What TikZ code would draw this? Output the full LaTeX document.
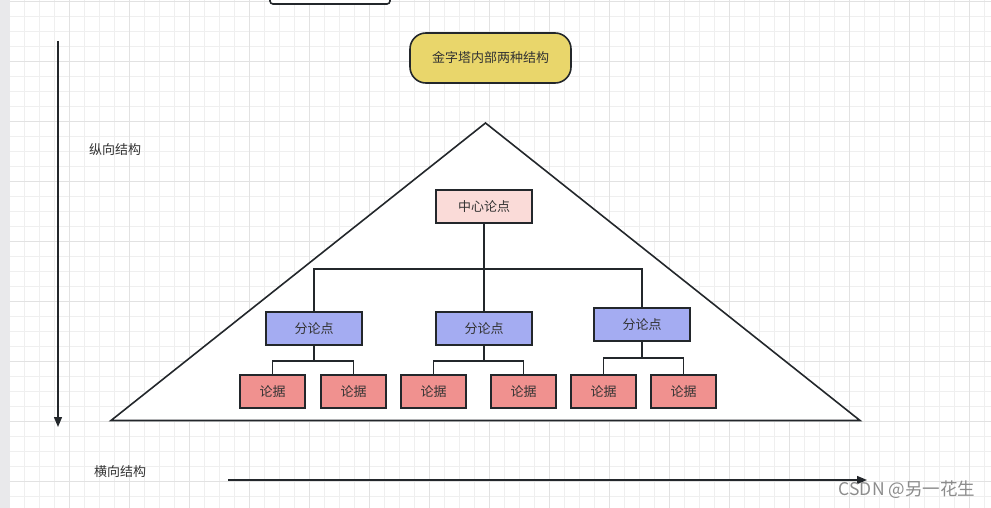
\documentclass[tikz,border=0pt]{standalone}
\usepackage{fontspec}
\setmainfont{Noto Sans CJK SC}
\usetikzlibrary{arrows.meta}
\definecolor{gridminor}{HTML}{EFEFEF}
\definecolor{gridmajor}{HTML}{E2E2E2}
\definecolor{strip}{HTML}{E9E9EB}
\definecolor{edge}{HTML}{23272B}
\definecolor{titlefill}{HTML}{E9D66B}
\definecolor{centerfill}{HTML}{FADBD8}
\definecolor{subfill}{HTML}{A4ACF2}
\definecolor{leaffill}{HTML}{F0918F}
\definecolor{txt}{HTML}{333333}
\tikzset{
  box/.style={draw=edge, line width=1.6pt, text=txt, font=\fontsize{13}{15}\selectfont, inner sep=0pt},
  centerbox/.style={box, fill=centerfill, minimum width=96pt, minimum height=33pt},
  subbox/.style={box, fill=subfill, minimum width=96pt, minimum height=33pt},
  leafbox/.style={box, fill=leaffill, minimum width=65pt, minimum height=33pt},
  link/.style={draw=edge, line width=1.6pt},
  label/.style={text=txt, font=\fontsize{13}{15}\selectfont, inner sep=0pt},
  axis/.style={draw=edge, line width=1.4pt, -{Triangle[length=10pt,width=8pt]}}
}
\begin{document}
\begin{tikzpicture}[x=1pt,y=-1pt]
\useasboundingbox (0,0) rectangle (991,508);
\fill[white] (0,0) rectangle (991,508);
% grid
\foreach \i in {0,...,66} {
  \draw[gridminor, line width=0.8pt] ({9.3+15*\i},0) -- ({9.3+15*\i},508);
}
\foreach \j in {0,...,34} {
  \draw[gridminor, line width=0.8pt] (0,{1.7+15*\j}) -- (991,{1.7+15*\j});
}
\foreach \i in {0,...,16} {
  \draw[gridmajor, line width=0.8pt] ({9.3+60*\i},0) -- ({9.3+60*\i},508);
}
\foreach \j in {0,...,8} {
  \draw[gridmajor, line width=0.8pt] (0,{1.7+60*\j}) -- (991,{1.7+60*\j});
}
\fill[strip] (0,0) rectangle (10,508);
% partial top box
\draw[draw=edge, line width=1.6pt, fill=white, rounded corners=3pt] (270,-20) rectangle (390,4);
% title
\node[box, fill=titlefill, rounded corners=16pt, minimum width=161pt, minimum height=50pt] (title) at (490.5,58) {金字塔内部两种结构};
% triangle
\coordinate (apex) at (485.5,123);
\coordinate (bl) at (111,420.5);
\coordinate (br) at (860,420.5);
\draw[draw=edge, line width=1.6pt, fill=white] (apex) -- (bl) -- (br) -- cycle;
% nodes
\node[centerbox] (c) at (484,206.5) {中心论点};
\node[subbox] (s1) at (314,328.5) {分论点};
\node[subbox] (s2) at (484,328.5) {分论点};
\node[subbox] (s3) at (642,324.5) {分论点};
\node[leafbox] (l1) at (272.5,391.5) {论据};
\node[leafbox] (l2) at (353.5,391.5) {论据};
\node[leafbox] (l3) at (433.5,391.5) {论据};
\node[leafbox] (l4) at (523.5,391.5) {论据};
\node[leafbox] (l5) at (603.5,391.5) {论据};
\node[leafbox] (l6) at (683.5,391.5) {论据};
% connectors
\draw[link] (c.south) -- ++(0,45) coordinate (hub);
\draw[link] (s1.north) |- (hub) -| (s3.north);
\draw[link] (hub) -- (s2.north);
\draw[link] (s1.south) -- ++(0,15) coordinate (j1);
\draw[link] (l1.north) |- (j1) -| (l2.north);
\draw[link] (s2.south) -- ++(0,15) coordinate (j2);
\draw[link] (l3.north) |- (j2) -| (l4.north);
\draw[link] (s3.south) -- ++(0,16) coordinate (j3);
\draw[link] (l5.north) |- (j3) -| (l6.north);
% axes
\coordinate (vtop) at (58,41);
\coordinate (vbot) at (58,427);
\draw[axis] (vtop) -- (vbot);
\coordinate (hl) at (228,480);
\coordinate (hr) at (867,480);
\draw[axis] (hl) -- (hr);
\node[label] (vl) at (115,150) {纵向结构};
\node[label] (hlab) at (120,472) {横向结构};
% watermark
\node[text=black!45, font=\fontsize{17.5}{19}\selectfont, inner sep=0pt] (wm) at (907,490) {CSDN @另一花生};
\end{tikzpicture}
\end{document}
